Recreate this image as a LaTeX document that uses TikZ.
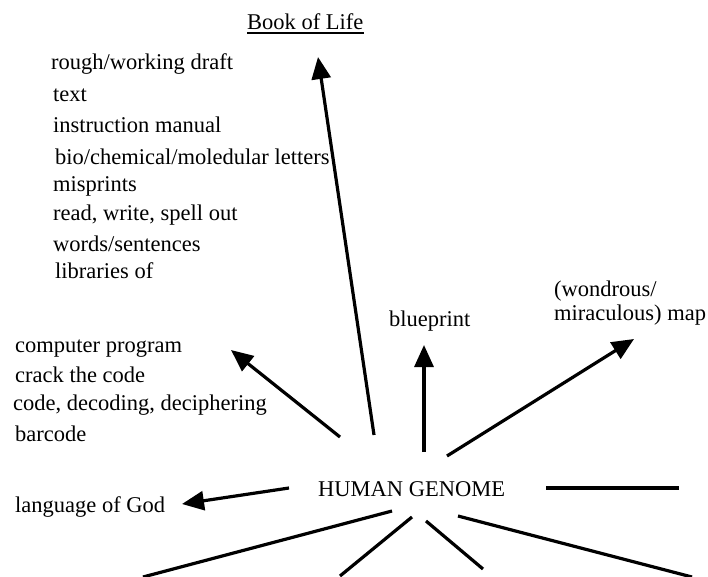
\documentclass[tikz,border=0pt]{standalone}
\usepackage{fontspec}
\setmainfont{Liberation Serif}
\usetikzlibrary{arrows.meta}

\begin{document}
\begin{tikzpicture}[x=1pt,y=-1pt,
    word/.style={anchor=base west,inner sep=0pt,font=\fontsize{22.5}{27}\selectfont},
    spoke/.style={line width=3.2pt},
    pointer/.style={spoke,-{Triangle[length=22pt,width=19pt]}}]
    \useasboundingbox (0,0) rectangle (708,577);

    % Centre word
    \node[word] (genome) at (318,496) {HUMAN GENOME};

    % Title with its underline
    \node[word] (book) at (247,30) {Book of Life};
    \draw[line width=1.4pt] ([yshift=-3pt]book.base west) -- ([yshift=-3pt]book.base east);

    % Words under the title
    \foreach \x/\y/\txt [count=\i] in {51/70/{rough/working draft}, 53/102/{text},
        53/133/{instruction manual}, 55/165/{bio/chemical/moledular letters},
        53/192/{misprints}, 53/220/{read, write, spell out},
        53/251/{words/sentences}, 55/278/{libraries of}} {
        \node[word] (life\i) at (\x,\y) {\txt};
    }

    % Words about the code
    \foreach \x/\y/\txt [count=\i] in {15/352/{computer program}, 15/382/{crack the code},
        13/410/{code, decoding, deciphering}, 15/441/{barcode}} {
        \node[word] (code\i) at (\x,\y) {\txt};
    }

    \node[word] (god) at (15,512) {language of God};
    \node[word] (blueprint) at (389,326) {blueprint};
    \node[word] (map1) at (554,296) {(wondrous/};
    \node[word] (map2) at (554,320) {miraculous) map};

    % Arrows out of the centre
    \foreach \name/\fx/\fy/\tx/\ty in {book/374/435/318/57, code/340/437/231/350,
        god/289/488/182/504, blueprint/424/452/424/345, map/447/456/634/339} {
        \coordinate (\name from) at (\fx,\fy);
        \coordinate (\name tip) at (\tx,\ty);
        \draw[pointer] (\name from) -- (\name tip);
    }

    % Blank spokes
    \foreach \name/\fx/\fy/\tx/\ty in {east/546/488/679/488, southeast/458/516/692/577,
        south a/426/521/483/569, south b/412/517/340/576, southwest/392/511/143/577} {
        \coordinate (\name from) at (\fx,\fy);
        \coordinate (\name end) at (\tx,\ty);
        \draw[spoke] (\name from) -- (\name end);
    }
\end{tikzpicture}
\end{document}
